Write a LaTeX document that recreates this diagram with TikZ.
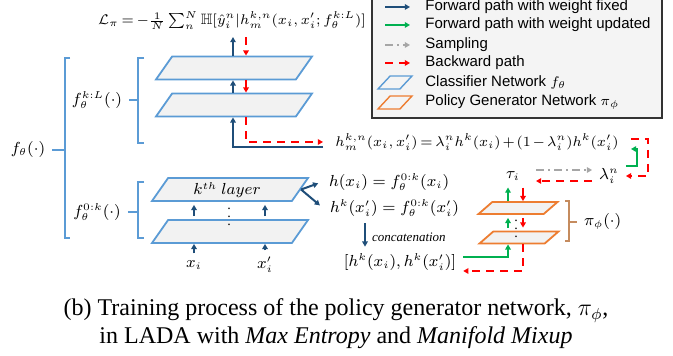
\documentclass[tikz,border=0pt]{standalone}
\usepackage{amssymb}
\usepackage{fontspec}
\setmainfont{Liberation Serif}
\newfontfamily\legfont{Liberation Sans}
\usetikzlibrary{shapes.geometric,arrows.meta}
\definecolor{planeblue}{HTML}{5B9BD5}
\definecolor{planefill}{HTML}{F2F2F2}
\definecolor{fwdblue}{HTML}{1F4E79}
\definecolor{updgreen}{HTML}{00B050}
\definecolor{planeorange}{HTML}{ED7D31}
\definecolor{bracetan}{HTML}{C58B5E}
\newcommand{\tightmath}{\thickmuskip=3mu\relax\medmuskip=2mu\relax}

\begin{document}
\begin{tikzpicture}[x=0.5pt,y=-0.5pt,
  font=\fontsize{7.8}{9}\selectfont,
  >={Triangle[length=2.6pt,width=2.8pt]},
  plane/.style={trapezium, trapezium left angle=55, trapezium right angle=125,
    trapezium stretches body, draw=planeblue, fill=planefill, line width=0.9pt,
    minimum width=78pt, inner xsep=0pt, inner ysep=5.75pt},
  oplane/.style={plane, draw=planeorange, trapezium left angle=41,
    trapezium right angle=139, minimum width=39.5pt, inner ysep=3pt},
  icon/.style={plane, fill=none, line width=0.7pt, minimum width=17pt,
    inner ysep=3.25pt, trapezium left angle=47, trapezium right angle=133},
  fwd/.style={->, draw=fwdblue, line width=1pt},
  upd/.style={->, draw=updgreen, line width=1pt},
  bwd/.style={->, draw=red, line width=1pt, dash pattern=on 4pt off 3pt},
  samp/.style={->, draw=gray!70, line width=1pt, dash pattern=on 4pt off 2pt on 1pt off 2pt},
  brk/.style={draw=planeblue, line width=1.2pt},
  obrace/.style={draw=bracetan, line width=0.9pt},
  legtext/.style={anchor=west, inner sep=0pt, font=\legfont\fontsize{7.5}{8}\selectfont},
  eqn/.style={font=\fontsize{7.2}{9}\selectfont\tightmath},
  gap/.style={shorten <=1.5pt, shorten >=1.5pt}]

\useasboundingbox (0,0) rectangle (673,356);

\draw[fill=gray!9, draw=black!80, line width=0.8pt] (372,-3) rectangle (662,118);
\foreach \y/\sty/\txt in {7/fwd/Forward path with weight fixed, 25/upd/Forward path with weight updated, 45/samp/Sampling, 63/bwd/Backward path}
  {\draw[\sty] (385,\y) -- (410,\y);
   \node[legtext] (leg\y) at (425,\y) {\txt};}
\node[icon] (icon1) at (395,82.5) {};
\node[icon, draw=planeorange] (icon2) at (395,102.5) {};
\node[legtext] (leg82) at (425,82) {Classifier Network $f_\theta$};
\node[legtext] (leg102) at (425,102) {Policy Generator Network $\pi_\phi$};

\node[eqn, font=\fontsize{7.5}{9}\selectfont\tightmath] (loss) at (232,21) {$\mathcal{L}_\pi = -\frac{1}{N}\sum_n^N \mathbb{H}[\hat{y}_i^n | h_m^{k,n}(x_i, x_i'; f_\theta^{k:L})]$};
\node[plane] (c1) at (234,68) {};
\node[plane] (c2) at (234,105) {};
\node[plane] (c3) at (230,189.5) {};
\node[plane] (c4) at (230,231.5) {};
\node (lay) at (227,190) {$k^{th}\ layer$};
\node (xi) at (194,265) {$x_i$};
\node (xpi) at (265,265) {$x'_i$};
\node[font=\scriptsize] (dots) at (229,211) {$\vdots$};

\node (ft) at (28,150) {$f_\theta(\cdot)$};
\node (fkl) at (97,100) {$f_\theta^{k:L}(\cdot)$};
\node (f0k) at (97,212) {$f_\theta^{0:k}(\cdot)$};
\draw[brk] (70,58) -- (65,58) -- (65,238) -- (70,238);
\draw[brk] (144,58) -- (138,58) -- (138,143) -- (144,143);
\draw[brk] (144,182) -- (138,182) -- (138,238) -- (144,238);
\draw[brk] (ft) -- (65,150);
\draw[brk] (fkl) -- (138,100);
\draw[brk] (f0k) -- (138,212);

\coordinate (bx) at (233,0);
\coordinate (rx) at (246,0);
\draw[fwd] (c1.north -| bx) -- (loss.south -| bx);
\draw[bwd] (loss.south -| rx) -- (c1.north -| rx);
\draw[fwd] (c2.north -| bx) -- (c1.south -| bx);
\draw[bwd] (c1.south -| rx) -- (c2.north -| rx);
\draw[fwd] (xi) -- (c4.south -| xi);
\draw[fwd] (xpi) -- (c4.south -| xpi);
\draw[fwd, gap] (c4.north -| xi) -- (c3.south -| xi);
\draw[fwd, gap] (c4.north -| xpi) -- (c3.south -| xpi);

\node[eqn, anchor=west, inner xsep=6pt, inner ysep=0pt] (hm) at (323,142) {$h_m^{k,n}(x_i,x_i') = \lambda_i^n h^k(x_i) + (1-\lambda_i^n)h^k(x_i')$};
\draw[fwd] ([yshift=2pt]hm.south west) -| (c2.south -| bx);
\draw[bwd] (c2.south -| rx) |- (hm.west);

\node[anchor=west] (h1) at (322,182) {$h(x_i) = f_\theta^{0:k}(x_i)$};
\node[anchor=west] (h2) at (323,208) {$h^k(x_i') = f_\theta^{0:k}(x_i')$};
\draw[fwd, shorten >=2pt] (c3.east) -- (h1.west);
\draw[fwd, shorten >=2pt] (c3.east) -- (h2.west);
\node[anchor=west, font=\fontsize{6.5}{7}\selectfont\itshape] (concat) at (365,237) {concatenation};
\node (cat) at (400,262) {$[h^k(x_i), h^k(x_i')]$};
\draw[fwd] (h2.south -| concat.west) -- (cat.north -| concat.west);

\node[oplane] (p1) at (518,208) {};
\node[oplane] (p2) at (519,237.5) {};
\node (tau) at (513,176) {$\tau_i$};
\node (lam) at (609,176) {$\lambda_i^n$};
\node[anchor=west] (pi) at (577,222) {$\pi_\phi(\cdot)$};
\node[font=\scriptsize] (pdots) at (516,223) {$\vdots$};
\coordinate (gx) at (508,0);
\coordinate (rdx) at (523,0);
\draw[upd] (p1.north -| gx) -- (tau.south -| gx);
\draw[bwd] (tau.south -| rdx) -- (p1.north -| rdx);
\draw[upd, gap] (p2.north -| gx) -- (p1.south -| gx);
\draw[bwd, gap] (p1.south -| rdx) -- (p2.north -| rdx);
\draw[upd] ([yshift=2.5pt]cat.east) -| (p2.south -| gx);
\draw[bwd] (p2.south -| rdx) |- ([yshift=-4.5pt]cat.east);
\draw[obrace] (565,201) -- (569,201) -- (569,241) -- (565,241);
\draw[obrace] (569,222) -- (pi.west);

\draw[samp, shorten <=4.5pt] ([yshift=3pt]tau.east) -- ([yshift=3pt]lam.west);
\draw[bwd, shorten >=4.5pt] ([yshift=-2.5pt]lam.west) -- ([yshift=-2.5pt]tau.east);
\coordinate (rr) at (648,160);
\coordinate (gg) at (637,157);
\draw[bwd] ([yshift=1.5pt]hm.east) -| (rr) |- (lam.east);
\draw[upd] ([yshift=5pt]lam.east) -| (gg) |- ([yshift=-3.5pt]hm.east);

\node[font=\fontsize{12}{14}\selectfont, align=center] (cap) at (336,324) {(b) Training process of the policy generator network, $\pi_\phi$,\\ in LADA with \textit{Max Entropy} and \textit{Manifold Mixup}};
\end{tikzpicture}
\end{document}
